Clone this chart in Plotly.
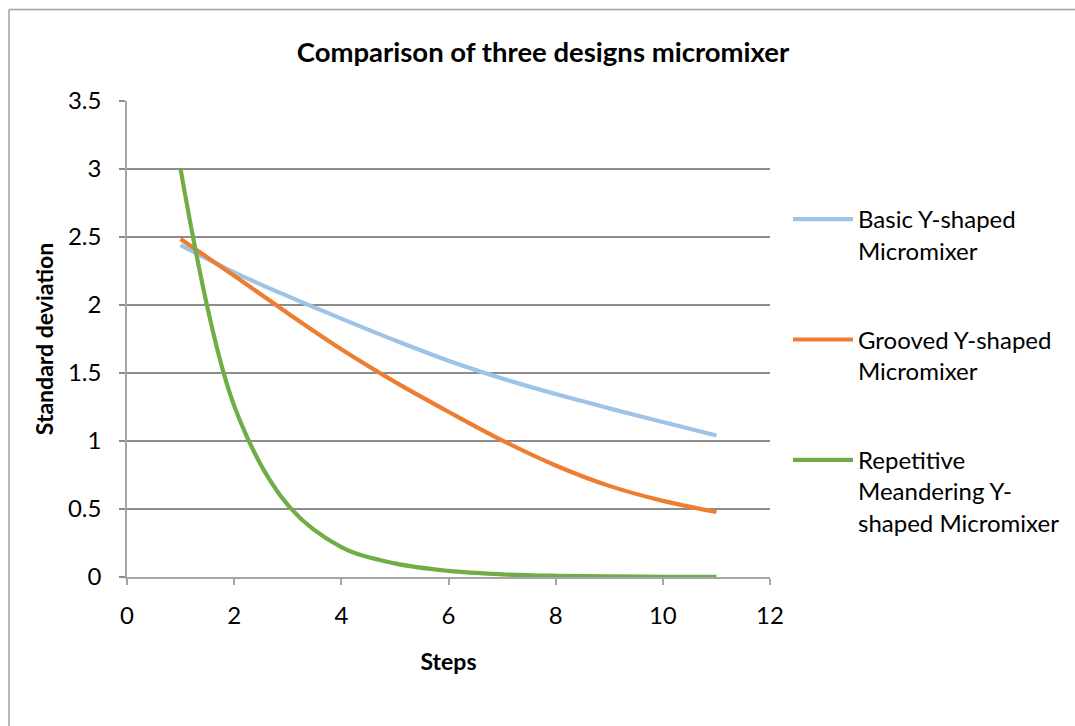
import plotly.graph_objects as go

steps = [1, 2, 3, 4, 5, 6, 7, 8, 9, 10, 11]
basic = [2.44, 2.24, 2.065, 1.90, 1.74, 1.59, 1.46, 1.345, 1.24, 1.14, 1.04]
grooved = [2.485, 2.215, 1.94, 1.675, 1.435, 1.215, 1.005, 0.82, 0.67, 0.56, 0.478]
repetitive = [3.0, 1.26, 0.53, 0.22, 0.10, 0.045, 0.02, 0.009, 0.004, 0.002, 0.001]

names = ["Basic Y-shaped<br>Micromixer",
         "Grooved Y-shaped<br>Micromixer",
         "Repetitive<br>Meandering Y-<br>shaped Micromixer"]
colors = ["#9DC3E6", "#ED7D31", "#70AD47"]

FONT = "Lato"
fig = go.Figure()
for i, (ys, nm, c) in enumerate(zip([basic, grooved, repetitive], names, colors)):
    fig.add_trace(go.Scatter(
        x=steps, y=ys, name=nm, mode="lines",
        line=dict(color=c, width=4.2, shape="spline", smoothing=1.0),
        legendgroup=f"g{i}",
    ))

# body margin is removed below, so figure coordinates = page coordinates
W, H = 1075, 726
L, R, T, B = 127, 770, 101, 577
PW, PH = R - L, B - T
fig.update_layout(
    width=W, height=H,
    margin=dict(l=L, r=W - R, t=T, b=H - B, autoexpand=False),
    paper_bgcolor="white", plot_bgcolor="white",
    font=dict(family=FONT, size=24, color="#000000"),
    title=dict(text="<b>Comparison of three designs micromixer</b>",
               x=543 / W, xref="container", xanchor="center",
               y=1 - 52 / H, yref="container", yanchor="middle",
               font=dict(family=FONT, size=27.5, color="#000000")),
    xaxis=dict(range=[0, 12], dtick=2, tick0=0, showgrid=False,
               showline=True, linecolor="#A6A6A6", linewidth=1.5,
               ticks="outside", ticklen=6, tickcolor="#A6A6A6", tickwidth=1.5,
               ticklabelstandoff=10, zeroline=False,
               tickfont=dict(family=FONT, size=24),
               title=dict(text="<b>Steps</b>", font=dict(family=FONT, size=23), standoff=26)),
    yaxis=dict(range=[0, 3.5], dtick=0.5, tick0=0, showgrid=True,
               gridcolor="#8C8C8C", gridwidth=1.5,
               showline=True, linecolor="#A6A6A6", linewidth=1.5,
               ticks="outside", ticklen=6, tickcolor="#8C8C8C", tickwidth=1.5,
               ticklabelstandoff=13, zeroline=False,
               tickfont=dict(family=FONT, size=24),
               title=dict(text="<b>Standard deviation</b>", font=dict(family=FONT, size=23), standoff=8)),
    legend=dict(x=(788 - L) / PW, xanchor="left", y=(B - 197) / PH, yanchor="top",
                valign="top", tracegroupgap=55, itemwidth=60,
                font=dict(family=FONT, size=24), bgcolor="rgba(0,0,0,0)"),
    showlegend=True,
)

# outer chart-area border: only its top and left edges are inside the picture
border = dict(color="#A0A0A0", width=1.5)
fig.add_shape(type="line", xref="paper", yref="paper",
              x0=(9 - L) / PW, x1=(W + 20 - L) / PW,
              y0=(B - 9.5) / PH, y1=(B - 9.5) / PH, line=border, layer="below")
fig.add_shape(type="line", xref="paper", yref="paper",
              x0=(9 - L) / PW, x1=(9 - L) / PW,
              y0=(B - 9.5) / PH, y1=(B - H - 20) / PH, line=border, layer="below")

fig.write_html("out.html",
               config={"displayModeBar": False},
               post_script="document.body.style.margin='0';document.body.style.overflow='hidden';")
